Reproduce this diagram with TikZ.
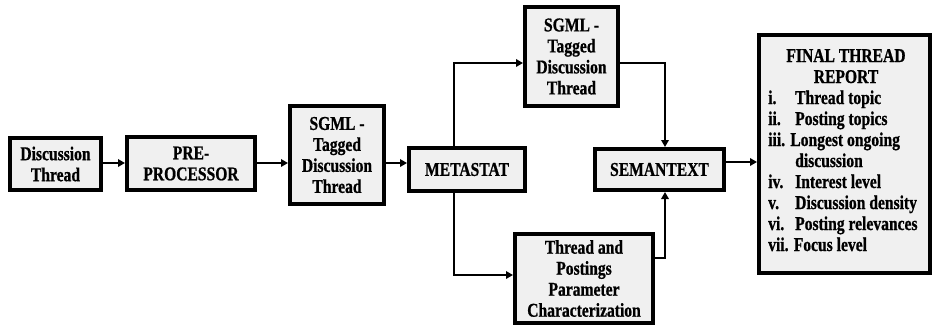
\documentclass[tikz,border=0pt]{standalone}
\usepackage{fontspec}
\setmainfont{Liberation Serif}[FakeStretch=0.8,FakeBold=0.8]
\usetikzlibrary{arrows.meta}
\definecolor{boxfill}{RGB}{240,240,240}
\begin{document}
\begin{tikzpicture}[x=1pt,y=-1pt,
  every node/.style={font=\fontsize{19.5}{21}\selectfont\bfseries},
  blk/.style={draw, line width=4pt, fill=boxfill, inner sep=0pt, align=center},
  arr/.style={line width=2.8pt, -{Triangle[length=7pt,width=7.5pt]}},
  item/.style={anchor=base west, inner sep=0pt}]
\useasboundingbox (0,0) rectangle (933,332);
% boxes
\node[blk, minimum width=91, minimum height=52] (b1) at (55.5,164) {Discussion\\Thread};
\node[blk, minimum width=128, minimum height=53] (b2) at (191,163.5) {PRE-\\PROCESSOR};
\node[blk, minimum width=94, minimum height=98] (b3) at (337,155) {SGML -\\Tagged\\Discussion\\Thread};
\node[blk, minimum width=116, minimum height=43] (meta) at (467,169.5) {METASTAT};
\node[blk, minimum width=93, minimum height=99] (top) at (571.5,56.5) {SGML -\\Tagged\\Discussion\\Thread};
\node[blk, minimum width=138, minimum height=89] (bot) at (584,278.5) {Thread and\\Postings\\Parameter\\Characterization};
\node[blk, minimum width=129, minimum height=41] (sem) at (659.5,169.5) {SEMANTEXT};
\node[blk, minimum width=171, minimum height=238] (final) at (844.5,154) {};
% report text
\node[inner sep=0pt, align=center, anchor=base] (title) at (846,83) {FINAL THREAD\\REPORT};
\node[item] (l1) at (768,104) {\makebox[27pt][l]{i.}Thread topic};
\node[item] (l2) at (768,125) {\makebox[27pt][l]{ii.}Posting topics};
\node[item] (l3) at (768,146) {iii. Longest ongoing};
\node[item] (l4) at (795,167) {discussion};
\node[item] (l5) at (768,188) {\makebox[27pt][l]{iv.}Interest level};
\node[item] (l6) at (768,209) {\makebox[27pt][l]{v.}Discussion density};
\node[item] (l7) at (768,230) {\makebox[27pt][l]{vi.}Posting relevances};
\node[item] (l8) at (768,251) {vii. Focus level};
% helper coordinates
\coordinate (ym) at (0,163);
\coordinate (ys) at (0,162);
\coordinate (bx) at (454,0);
\coordinate (sx) at (665,0);
\coordinate (ty) at (0,63);
\coordinate (by) at (0,275);
\coordinate (my) at (0,258);
% connectors
\draw[arr] (b1.east |- ym) -- (b2.west |- ym);
\draw[arr] (b2.east |- ym) -- (b3.west |- ym);
\draw[arr] (b3.east |- ym) -- (meta.west |- ym);
\draw[arr] (meta.north -| bx) |- (top.west |- ty);
\draw[arr] (meta.south -| bx) |- (bot.west |- by);
\draw[arr] (top.east |- ty) -| (sem.north -| sx);
\draw[arr] (bot.east |- my) -| (sem.south -| sx);
\draw[arr] (sem.east |- ys) -- (final.west |- ys);
\end{tikzpicture}
\end{document}
